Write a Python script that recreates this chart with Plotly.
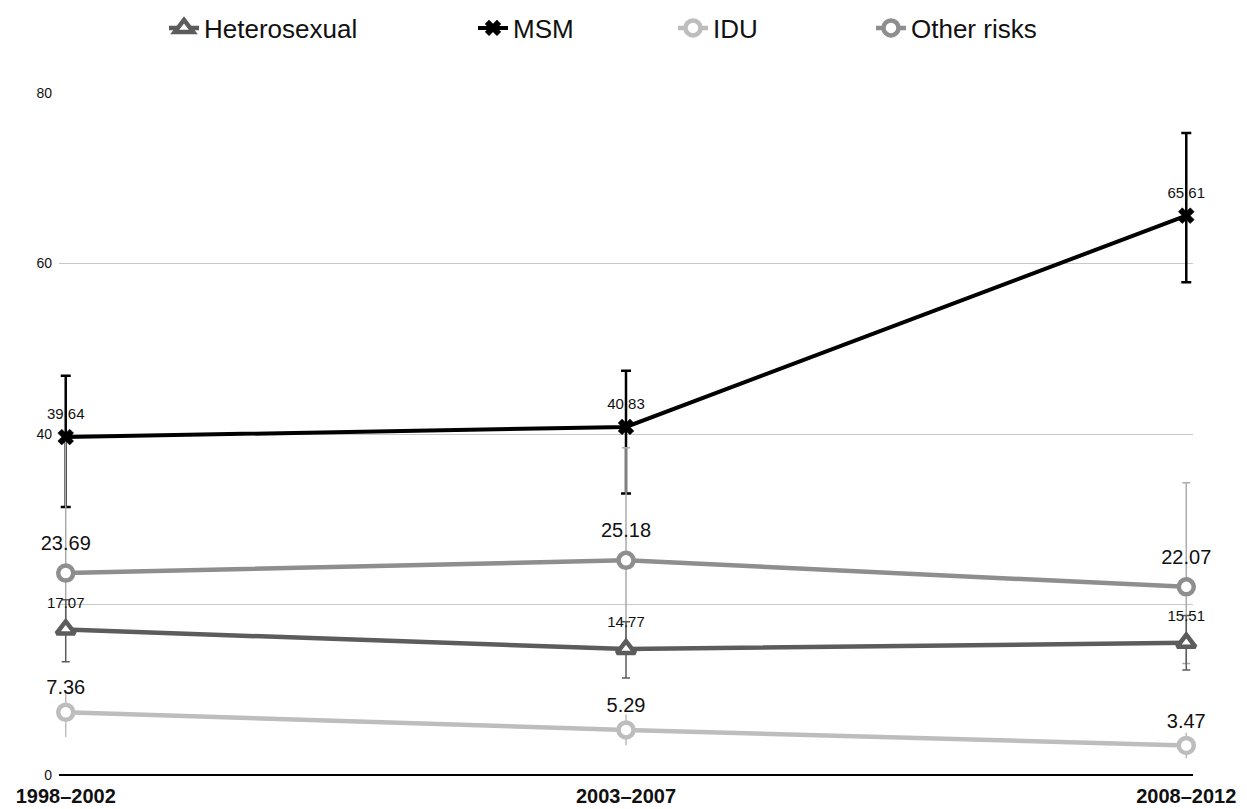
import plotly.graph_objects as go

periods = ["1998–2002", "2003–2007", "2008–2012"]

hetero = [17.07, 14.77, 15.51]
msm = [39.64, 40.83, 65.61]
idu = [7.36, 5.29, 3.47]
other = [23.69, 25.18, 22.07]

# error bars (upper / lower extents)
hetero_up = [3.5, 3.2, 3.2]
hetero_dn = [3.8, 3.4, 3.2]
msm_up = [7.2, 6.6, 9.7]
msm_dn = [8.2, 7.8, 7.8]
idu_up = [2.6, 1.8, 1.5]
idu_dn = [2.9, 1.8, 1.5]
other_up = [15.9, 13.2, 12.2]
other_dn = [7.2, 10.2, 9.0]

y_ticks = [0, 20, 40, 60, 80]
y_ticktext = ["0", "", "40", "60", "80"]

FONT = "Liberation Sans"

C_HET = "#5c5c5c"
C_MSM = "#000000"
C_IDU = "#bdbdbd"
C_OTH = "#8e8e8e"


def fmt(v):
    return [f"{x:.2f}" for x in v]


fig = go.Figure()

# error bars + value labels first (drawn underneath the lines)
err_specs = [
    (msm, msm_up, msm_dn, C_MSM, 2.5, 5, 21, 15),
    (other, other_up, other_dn, "#ababab", 1.5, 4, 27, 20),
    (hetero, hetero_up, hetero_dn, C_HET, 1.5, 4, 27, 15),
    (idu, idu_up, idu_dn, C_IDU, 1.5, 0, 19, 20),
]
for vals, up, dn, col, th, w, msz, fsz in err_specs:
    fig.add_trace(go.Scatter(
        x=periods, y=vals, mode="markers+text",
        marker=dict(size=msz, opacity=0),
        text=fmt(vals), textposition="top center",
        textfont=dict(family=FONT, size=fsz, color="#111"),
        error_y=dict(type="data", symmetric=False, array=up, arrayminus=dn,
                     color=col, thickness=th, width=w),
        showlegend=False, hoverinfo="skip", cliponaxis=False,
    ))

fig.add_trace(go.Scatter(
    x=periods, y=hetero, name="Heterosexual", mode="lines+markers",
    line=dict(color=C_HET, width=4.5),
    marker=dict(symbol="triangle-up", size=16, color="white",
                line=dict(color=C_HET, width=4.5)),
    cliponaxis=False, legend="legend",
))
fig.add_trace(go.Scatter(
    x=periods, y=msm, name="MSM", mode="lines+markers",
    line=dict(color=C_MSM, width=4),
    marker=dict(symbol="x", size=14, color=C_MSM,
                line=dict(color=C_MSM, width=0.5)),
    cliponaxis=False, legend="legend2",
))
fig.add_trace(go.Scatter(
    x=periods, y=idu, name="IDU", mode="lines+markers",
    line=dict(color=C_IDU, width=4.5),
    marker=dict(symbol="circle", size=15, color="white",
                line=dict(color=C_IDU, width=4.5)),
    cliponaxis=False, legend="legend3",
))
fig.add_trace(go.Scatter(
    x=periods, y=other, name="Other risks", mode="lines+markers",
    line=dict(color=C_OTH, width=4.5),
    marker=dict(symbol="circle", size=15, color="white",
                line=dict(color=C_OTH, width=4.5)),
    cliponaxis=False, legend="legend4",
))

FW, FH = 1231, 801

leg_common = dict(orientation="h", yref="container", xref="container",
                  yanchor="middle", y=1 - 20 / FH, xanchor="left",
                  font=dict(family=FONT, size=26, color="#111"),
                  bgcolor="rgba(0,0,0,0)", borderwidth=0)

fig.update_layout(
    width=FW, height=FH,
    margin=dict(l=51, r=46, t=85, b=34, autoexpand=False),
    paper_bgcolor="white", plot_bgcolor="white",
    font=dict(family=FONT, color="#111"),
    legend=dict(x=156 / FW, **leg_common),
    legend2=dict(x=465 / FW, **leg_common),
    legend3=dict(x=665 / FW, **leg_common),
    legend4=dict(x=863 / FW, **leg_common),
    xaxis=dict(range=[-0.012, 2.012], showgrid=False, showline=False,
               zeroline=False, automargin=False,
               ticks="", ticklabelstandoff=7,
               tickfont=dict(family=FONT, size=20, color="#111", weight="bold")),
    yaxis=dict(range=[0, 80], tickvals=y_ticks, ticktext=y_ticktext,
               showgrid=True, gridcolor="#c8c8c8", gridwidth=1,
               zeroline=True, zerolinecolor="#000", zerolinewidth=2,
               showline=False, ticks="", ticklabelstandoff=6, automargin=False,
               tickfont=dict(family=FONT, size=14, color="#111")),
)

fig.write_html("out.html")
